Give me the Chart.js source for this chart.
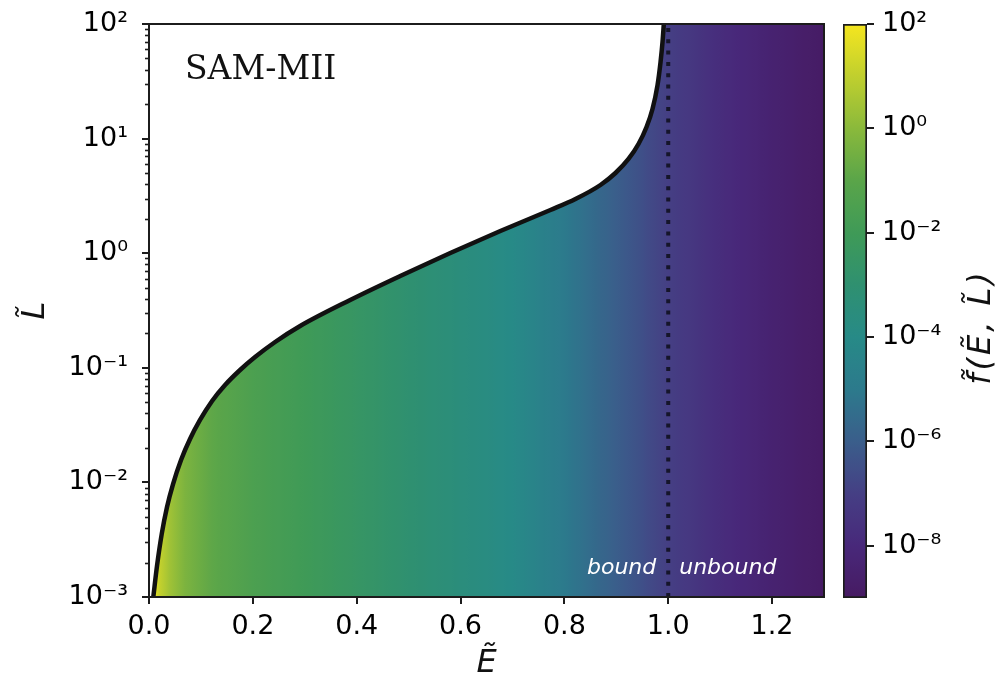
<!DOCTYPE html>
<html lang="en">
<head>
  <meta charset="UTF-8">
  <title>SAM-MII distribution function</title>
  <script src="https://cdn.jsdelivr.net/npm/chart.js"></script>
  <style>
    body { margin: 0; background: #fff; }
    #wrap { position: relative; width: 1008px; height: 684px; }
    canvas { position: absolute; left: 0; top: 0; }
  </style>
</head>
<body>
  <div id="wrap">
    <canvas id="plot" width="1008" height="684"></canvas>
    <canvas id="cbar" width="1008" height="684"></canvas>
  </div>
  <script>
    // edge of the populated region, L_max(E)
    const curveE = [0.0083, 0.0154, 0.0245, 0.0347, 0.0463, 0.0617, 0.079, 0.0983, 0.1215, 0.1465, 0.1754,
                    0.2043, 0.2429, 0.2911, 0.3875, 0.4839, 0.5803, 0.6767, 0.7731, 0.8213, 0.8695, 0.8984,
                    0.9235, 0.9427, 0.9582, 0.9697, 0.9794, 0.9852, 0.989, 0.9915];
    const curveL = [0.001, 0.001865, 0.003546, 0.0061, 0.00968, 0.01569, 0.02391, 0.03504, 0.05132, 0.07077, 0.0957,
                    0.1242, 0.168, 0.2316, 0.3905, 0.6324, 1.004, 1.562, 2.382, 2.971, 3.937, 5.01,
                    6.64, 8.97, 12.63, 18.13, 29.36, 46.6, 69.6, 100];

    // log10 f across E (the shading only depends on E)
    const shadeE    = [0.0, 0.01, 0.02, 0.04, 0.07, 0.12, 0.2, 0.3, 0.4, 0.5, 0.6, 0.7, 0.8, 0.9, 1.0, 1.1, 1.2, 1.3];
    const shadeLogF = [2.0, 1.8, 1.1, 0.4, -0.3, -0.9, -1.5, -2.0, -2.5, -3.0, -3.5, -4.0, -5.0, -6.0, -7.0, -7.8, -8.4, -8.9];

    const xTicks = [0, 0.2, 0.4, 0.6, 0.8, 1.0, 1.2];
    const yDecades = [-3, -2, -1, 0, 1, 2];
    const cbarDecades = [-8, -6, -4, -2, 0, 2];
    const cbarMin = 1e-9, cbarMax = 1e2;

    // colour table, one entry per decade from 1e-9 up to 1e2
    const cmapStops = ['#461a62', '#48287a', '#453f84', '#3a5e8b', '#2c7a8c', '#278a87',
                       '#2f9070', '#3f9a57', '#5aa549', '#8ab93b', '#c0cf2e', '#f5e61f'];

    function hexRgb(h) {
      return [1, 3, 5].map(i => parseInt(h.substr(i, 2), 16));
    }
    function cmap(t) {
      t = Math.max(0, Math.min(1, t)) * (cmapStops.length - 1);
      const i = Math.min(Math.floor(t), cmapStops.length - 2);
      const f = t - i;
      const a = hexRgb(cmapStops[i]), b = hexRgb(cmapStops[i + 1]);
      const c = a.map((v, k) => Math.round(v + (b[k] - v) * f));
      return `rgb(${c[0]},${c[1]},${c[2]})`;
    }
    function interp(xs, ys, x) {
      if (x <= xs[0]) return ys[0];
      for (let i = 1; i < xs.length; i++) {
        if (x <= xs[i]) {
          const f = (x - xs[i - 1]) / (xs[i] - xs[i - 1]);
          return ys[i - 1] + (ys[i] - ys[i - 1]) * f;
        }
      }
      return ys[ys.length - 1];
    }
    const logMin = Math.log10(cbarMin), logMax = Math.log10(cbarMax);
    const toT = lf => (lf - logMin) / (logMax - logMin);

    const supMap = { '-': '\u207b', '0': '\u2070', '1': '\u00b9', '2': '\u00b2', '3': '\u00b3',
                     '4': '\u2074', '5': '\u2075', '6': '\u2076', '7': '\u2077', '8': '\u2078', '9': '\u2079' };
    function powLabel(v) {
      const e = Math.round(Math.log10(v));
      return '10' + String(e).split('').map(c => supMap[c]).join('');
    }
    const isDecade = v => Math.abs(Math.log10(v) - Math.round(Math.log10(v))) < 1e-9;

    // keep label overhang from pushing the plot area around
    function noOverhang(s) {
      s.paddingTop = 0; s.paddingBottom = 0; s.paddingLeft = 0; s.paddingRight = 0;
    }

    const INK = '#1c1c1c';
    const tickFont = { family: 'DejaVu Sans', size: 27 };

    // horizontal shading under the edge curve
    function shadeFill(context) {
      const chart = context.chart;
      if (!chart.chartArea) return 'transparent';
      const xs = chart.scales.x;
      const x0 = xs.getPixelForValue(0), x1 = xs.getPixelForValue(1.3);
      const g = chart.ctx.createLinearGradient(x0, 0, x1, 0);
      for (let i = 0; i <= 130; i++) {
        const e = i / 100;
        g.addColorStop((xs.getPixelForValue(e) - x0) / (x1 - x0), cmap(toT(interp(shadeE, shadeLogF, e))));
      }
      return g;
    }

    const curvePts = curveE.map((e, i) => ({ x: e, y: curveL[i] }));

    const plotDecor = {
      id: 'plotDecor',
      afterDatasetsDraw(chart) {
        const { ctx, chartArea: a, scales } = chart;
        ctx.save();
        // minor ticks on the log axis
        ctx.strokeStyle = INK;
        ctx.lineWidth = 1.6;
        scales.y.ticks.forEach(t => {
          if (isDecade(t.value)) return;
          const y = Math.round(scales.y.getPixelForValue(t.value)) + 0.5;
          ctx.beginPath();
          ctx.moveTo(a.left - 4, y);
          ctx.lineTo(a.left, y);
          ctx.stroke();
        });
        // frame
        ctx.lineWidth = 2;
        ctx.strokeRect(a.left, a.top, a.right - a.left, a.bottom - a.top);

        ctx.fillStyle = '#fff';
        ctx.font = 'italic 22px "DejaVu Sans"';
        ctx.textBaseline = 'alphabetic';
        const xOne = scales.x.getPixelForValue(1.0);
        ctx.textAlign = 'right';
        ctx.fillText('bound', xOne - 12, 574);
        ctx.textAlign = 'left';
        ctx.fillText('unbound', xOne + 11, 574);

        ctx.fillStyle = '#111';
        ctx.font = '33px "DejaVu Serif"';
        ctx.fillText('SAM-MII', 185, 79);

        ctx.font = 'italic 32px "DejaVu Sans"';
        ctx.textAlign = 'center';
        ctx.fillText('E\u0303', (a.left + a.right) / 2, 672);
        ctx.save();
        ctx.translate(44, (a.top + a.bottom) / 2);
        ctx.rotate(-Math.PI / 2);
        ctx.fillText('L\u0303', 0, 0);
        ctx.restore();
        ctx.restore();
      }
    };

    new Chart(document.getElementById('plot'), {
      type: 'line',
      data: {
        datasets: [
          {
            // shaded region under the edge, drawn first
            data: curvePts.concat([{ x: 1.3, y: 100 }]),
            order: 3,
            borderColor: 'transparent',
            borderWidth: 0,
            pointRadius: 0,
            fill: 'start',
            backgroundColor: shadeFill,
            cubicInterpolationMode: 'monotone'
          },
          {
            data: curvePts,
            order: 2,
            borderColor: '#111',
            borderWidth: 4.5,
            pointRadius: 0,
            fill: false,
            cubicInterpolationMode: 'monotone'
          },
          {
            data: [{ x: 1.0, y: 1e-3 }, { x: 1.0, y: 1e2 }],
            order: 1,
            borderColor: '#15152a',
            borderWidth: 4,
            borderDash: [4, 7.3],
            borderCapStyle: 'butt',
            pointRadius: 0,
            fill: false
          }
        ]
      },
      options: {
        responsive: false,
        animation: false,
        layout: { padding: { left: 0, top: 24, right: 184, bottom: 0 } },
        plugins: { legend: { display: false }, tooltip: { enabled: false } },
        scales: {
          x: {
            type: 'linear',
            min: 0,
            max: 1.3,
            afterBuildTicks: s => { s.ticks = xTicks.map(v => ({ value: v })); },
            afterFit: s => { s.height = 87; noOverhang(s); },
            border: { color: INK, width: 2 },
            grid: { drawOnChartArea: false, tickLength: 7, color: INK, lineWidth: 2 },
            ticks: {
              color: '#000', font: tickFont, padding: 7, maxRotation: 0,
              callback: v => Number(v).toFixed(1)
            }
          },
          y: {
            type: 'logarithmic',
            min: 1e-3,
            max: 1e2,
            afterBuildTicks: s => {
              const t = [];
              yDecades.forEach(d => {
                t.push({ value: Math.pow(10, d), major: true });
                if (d < yDecades[yDecades.length - 1]) {
                  for (let k = 2; k <= 9; k++) t.push({ value: k * Math.pow(10, d), major: false });
                }
              });
              s.ticks = t;
            },
            afterFit: s => { s.width = 149; noOverhang(s); },
            border: { color: INK, width: 2 },
            grid: {
              drawOnChartArea: false, tickLength: 7, lineWidth: 2,
              color: c => (c.tick && isDecade(c.tick.value)) ? INK : 'rgba(0,0,0,0)'
            },
            ticks: {
              color: '#000', font: tickFont, padding: 14, autoSkip: false,
              callback: v => isDecade(v) ? powLabel(v) : ''
            }
          }
        }
      },
      plugins: [plotDecor]
    });

    // colour bar
    function barFill(context) {
      const chart = context.chart;
      if (!chart.chartArea) return 'transparent';
      const ys = chart.scales.y;
      const y0 = ys.getPixelForValue(cbarMin), y1 = ys.getPixelForValue(cbarMax);
      const g = chart.ctx.createLinearGradient(0, y0, 0, y1);
      for (let i = 0; i <= 44; i++) g.addColorStop(i / 44, cmap(i / 44));
      return g;
    }

    const cbarDecor = {
      id: 'cbarDecor',
      afterDraw(chart) {
        const { ctx } = chart;
        ctx.save();
        ctx.fillStyle = '#111';
        ctx.font = 'italic 32px "DejaVu Sans"';
        ctx.letterSpacing = '3px';
        ctx.textAlign = 'center';
        ctx.textBaseline = 'middle';
        ctx.translate(982, 327);
        ctx.rotate(-Math.PI / 2);
        ctx.fillText('f\u0303(E\u0303, L\u0303)', 0, 0);
        ctx.restore();
      }
    };

    new Chart(document.getElementById('cbar'), {
      type: 'bar',
      data: {
        labels: ['f'],
        datasets: [{
          data: [[cbarMin, cbarMax]],
          backgroundColor: barFill,
          borderColor: INK,
          borderWidth: 2,
          borderSkipped: false,
          barPercentage: 1,
          categoryPercentage: 1
        }]
      },
      options: {
        responsive: false,
        animation: false,
        layout: { padding: { left: 843, top: 24, right: 0, bottom: 86 } },
        plugins: { legend: { display: false }, tooltip: { enabled: false } },
        scales: {
          x: { display: false },
          y: {
            type: 'logarithmic',
            position: 'right',
            min: cbarMin,
            max: cbarMax,
            afterBuildTicks: s => { s.ticks = cbarDecades.map(d => ({ value: Math.pow(10, d) })); },
            afterFit: s => { s.width = 141; noOverhang(s); },
            border: { display: false },
            grid: { drawOnChartArea: false, tickLength: 7, color: INK, lineWidth: 2 },
            ticks: { color: '#000', font: tickFont, padding: 8, callback: v => powLabel(v) }
          }
        }
      },
      plugins: [cbarDecor]
    });
  </script>
</body>
</html>
